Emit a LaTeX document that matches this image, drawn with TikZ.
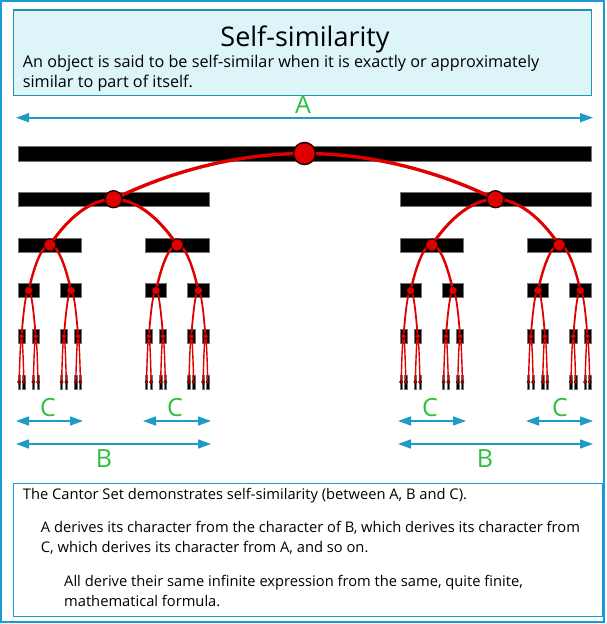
\documentclass[tikz,border=0pt]{standalone}
\usepackage{fontspec}
\setmainfont{Open Sans}
\usetikzlibrary{arrows.meta}
\definecolor{frameblue}{HTML}{1A9AD6}
\definecolor{titlefill}{HTML}{DDF4F9}
\definecolor{titleedge}{HTML}{2393A8}
\definecolor{dimblue}{HTML}{1C9CC6}
\definecolor{labelgreen}{HTML}{2EC040}
\definecolor{cantorred}{HTML}{E00000}
\begin{document}
\begin{tikzpicture}[x=1pt,y=-1pt,
  declare function={
    bit(\a,\b,\c)=(\c<=\b)*mod(floor(\a/2^(\b-\c)),2);
    cx(\a,\b)=18+1146*(bit(\a,\b,1)/3+bit(\a,\b,2)/9+bit(\a,\b,3)/27+bit(\a,\b,4)/81+bit(\a,\b,5)/243);
    ycen(\a)=153.5+45.7*\a;
  },
  txt/.style={anchor=base west, inner sep=0pt, font=\fontsize{14.7}{17}\selectfont},
  toptxt/.style={txt, font=\fontsize{16.2}{19}\selectfont},
  lbl/.style={text=labelgreen, inner sep=0pt, font=\fontsize{25}{28}\selectfont},
  dim/.style={{Triangle[length=13pt,width=9pt]}-{Triangle[length=13pt,width=9pt]}, draw=dimblue, line width=1.6pt},
  box/.style={draw, anchor=north west, inner sep=0pt}
]
\useasboundingbox (0,0) rectangle (607,624);
\fill[white] (0,0) rectangle (607,624);
\draw[frameblue, line width=1.5pt] (1,1) rectangle (604,622);

% title box
\node[box, draw=titleedge, fill=titlefill, line width=1.2pt, minimum width=577.7pt, minimum height=85.7pt] (titlebox) at (13,9.3) {};
\node[anchor=base, inner sep=0pt, font=\fontsize{27}{30}\selectfont] (title) at (305,46.5) {Self-similarity};
\node[toptxt] (t1) at (22.7,67) {An object is said to be self-similar when it is exactly or approximately};
\node[toptxt] (t2) at (22.7,87) {similar to part of itself.};

% dimension arrows
\coordinate (A1) at (16,117.7); \coordinate (A2) at (593,117.7);
\draw[dim] (A1) -- (A2);
\node[lbl] (lA) at (303,105) {A};
\coordinate (C1a) at (16,421);  \coordinate (C1b) at (83,421);
\coordinate (C2a) at (143,421); \coordinate (C2b) at (211,421);
\coordinate (C3a) at (398,421); \coordinate (C3b) at (466,421);
\coordinate (C4a) at (526,421); \coordinate (C4b) at (593,421);
\draw[dim] (C1a) -- (C1b);
\draw[dim] (C2a) -- (C2b);
\draw[dim] (C3a) -- (C3b);
\draw[dim] (C4a) -- (C4b);
\node[lbl] (lC1) at (48,408) {C};
\node[lbl] (lC2) at (175,408) {C};
\node[lbl] (lC3) at (430,408) {C};
\node[lbl] (lC4) at (560,408) {C};
\coordinate (B1a) at (16,444);  \coordinate (B1b) at (211,444);
\coordinate (B2a) at (398,444); \coordinate (B2b) at (593,444);
\draw[dim] (B1a) -- (B1b);
\draw[dim] (B2a) -- (B2b);
\node[lbl] (lB1) at (104,459) {B};
\node[lbl] (lB2) at (485,459) {B};

% Cantor bars
\foreach \n in {0,...,5}{
  \pgfmathtruncatemacro\m{2^\n-1}
  \pgfmathsetmacro\w{573/3^\n}
  \pgfmathsetmacro\yc{ycen(\n)}
  \pgfmathsetmacro\hh{\n==0 ? 7.5 : 7}
  \foreach \i in {0,...,\m}{
    \pgfmathsetmacro\xl{cx(\i,\n)}
    \filldraw[fill=black, draw=black!55, line width=0.6pt] (\xl,\yc-\hh) rectangle (\xl+\w,\yc+\hh);
  }
}
% Cantor curves
\foreach \n/\lw in {1/3.4,2/3,3/2.4,4/1.8,5/1.4}{
  \pgfmathtruncatemacro\m{2^(\n-1)-1}
  \pgfmathsetmacro\w{573/3^\n}
  \pgfmathsetmacro\pw{573/3^(\n-1)}
  \pgfmathsetmacro\yc{ycen(\n)}
  \pgfmathsetmacro\yp{ycen(\n-1)}
  \foreach \j in {0,...,\m}{
    \pgfmathsetmacro\pa{cx(\j,\n-1)+\pw/2}
    \pgfmathsetmacro\ca{cx(2*\j,\n)+\w/2}
    \pgfmathsetmacro\cb{cx(2*\j+1,\n)+\w/2}
    \draw[cantorred, line width=\lw pt] (\ca,\yc) parabola bend (\pa,\yp) (\cb,\yc);
  }
}
% Cantor dots
\foreach \n/\r/\lw in {0/11/1.5,1/8.5/1.3,2/6/1,3/4.2/0.8,4/2.6/0.6,5/1.7/0.4}{
  \pgfmathtruncatemacro\m{2^\n-1}
  \pgfmathsetmacro\w{573/3^\n}
  \pgfmathsetmacro\yc{ycen(\n)}
  \foreach \i in {0,...,\m}{
    \pgfmathsetmacro\xc{cx(\i,\n)+\w/2}
    \filldraw[fill=cantorred, draw=black!85!red, line width=\lw pt] (\xc,\yc) circle[radius=\r];
  }
}

% bottom box
\node[box, draw=frameblue, line width=1.2pt, minimum width=589pt, minimum height=133pt] (bottombox) at (13,483) {};
\node[txt] (b1) at (22.7,499.3) {The Cantor Set demonstrates self-similarity (between A, B and C).};
\node[txt] (b2) at (40.7,532.7) {A derives its character from the character of B, which derives its character from};
\node[txt] (b3) at (40.7,552) {C, which derives its character from A, and so on.};
\node[txt] (b4) at (64,586) {All derive their same infinite expression from the same, quite finite,};
\node[txt] (b5) at (64,606.3) {mathematical formula.};
\end{tikzpicture}
\end{document}
